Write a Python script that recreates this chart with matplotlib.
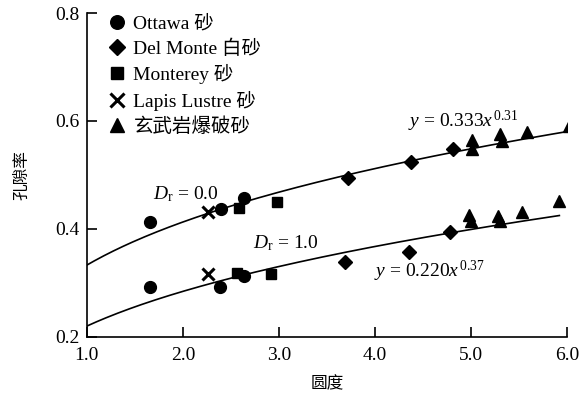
import matplotlib.pyplot as plt
import numpy as np

plt.rcParams['font.family'] = ['Liberation Serif', 'Noto Sans CJK SC']
plt.rcParams['mathtext.fontset'] = 'custom'
plt.rcParams['mathtext.rm'] = 'Liberation Serif'
plt.rcParams['mathtext.it'] = 'Liberation Serif:italic'

# roundness / porosity readings (Dr = 0.0 and Dr = 1.0 together)
ottawa_x = [1.66, 2.40, 2.64, 1.66, 2.39, 2.64]
ottawa_y = [0.413, 0.436, 0.457, 0.292, 0.293, 0.313]
delmonte_x = [3.72, 4.37, 4.81, 3.69, 4.35, 4.78]
delmonte_y = [0.495, 0.524, 0.548, 0.339, 0.358, 0.394]
monterey_x = [2.58, 2.98, 2.56, 2.92]
monterey_y = [0.438, 0.449, 0.319, 0.317]
lapis_x = [2.26, 2.26]
lapis_y = [0.432, 0.316]
basalt_x = [5.01, 5.01, 5.30, 5.32, 5.58, 6.02, 4.98, 5.00, 5.28, 5.30, 5.53, 5.92]
basalt_y = [0.565, 0.548, 0.576, 0.562, 0.580, 0.591, 0.426, 0.414, 0.423, 0.414, 0.432, 0.452]

# power-law fits y = a * x^b
fit_loose = (0.333, 0.31)
fit_dense = (0.220, 0.37)

fig = plt.figure(figsize=(5.87, 3.94), dpi=100)
ax = fig.add_axes([0.148, 0.145, 0.818, 0.822])

ms = 8.5
ax.plot(ottawa_x, ottawa_y, 'o', color='black', ms=ms, label='Ottawa 砂')
ax.plot(delmonte_x, delmonte_y, 'D', color='black', ms=ms * 0.8, label='Del Monte 白砂')
ax.plot(monterey_x, monterey_y, 's', color='black', ms=ms * 0.9, label='Monterey 砂')
ax.plot(lapis_x, lapis_y, 'x', color='black', ms=ms, mew=2.2, label='Lapis Lustre 砂')
ax.plot(basalt_x, basalt_y, '^', color='black', ms=ms, label='玄武岩爆破砂')

xa = np.linspace(1.0, 6.0, 200)
ax.plot(xa, fit_loose[0] * xa ** fit_loose[1], color='black', lw=1.2)
xb = np.linspace(1.0, 5.92, 200)
ax.plot(xb, fit_dense[0] * xb ** fit_dense[1], color='black', lw=1.2)

fs = 14
ax.text(1.69, 0.464, r'$D_{\mathrm{r}}$ = 0.0', fontsize=fs, va='center')
ax.text(2.73, 0.373, r'$D_{\mathrm{r}}$ = 1.0', fontsize=fs, va='center')
ax.text(4.34, 0.599, r'$y$ = 0.333$x$$^{\,\mathrm{0.31}}$', fontsize=fs, va='center')
ax.text(3.99, 0.322, r'$y$ = 0.220$x$$^{\,\mathrm{0.37}}$', fontsize=fs, va='center')

ax.set_xlim(1.0, 6.0)
ax.set_ylim(0.2, 0.8)
ax.set_xticks([1, 2, 3, 4, 5, 6])
ax.set_xticklabels(['1.0', '2.0', '3.0', '4.0', '5.0', '6.0'])
ax.set_yticks([0.2, 0.4, 0.6, 0.8])
ax.set_yticklabels(['0.2', '0.4', '0.6', '0.8'])
ax.tick_params(direction='in', length=7, width=1.2, labelsize=fs)
ax.tick_params(axis='x', pad=7)
ax.tick_params(axis='y', pad=5)
for s in ['top', 'right']:
    ax.spines[s].set_visible(False)
for s in ['left', 'bottom']:
    ax.spines[s].set_linewidth(1.2)

ax.set_xlabel('圆度', fontsize=12, labelpad=9)
ax.set_ylabel('孔隙率', fontsize=12, labelpad=18)

ax.legend(loc='upper left', bbox_to_anchor=(0.03, 1.018), frameon=False, fontsize=fs,
          handlelength=0.8, handletextpad=0.45, labelspacing=0.34, borderaxespad=0,
          markerscale=1.15)

fig.savefig('out.png', dpi=100)
